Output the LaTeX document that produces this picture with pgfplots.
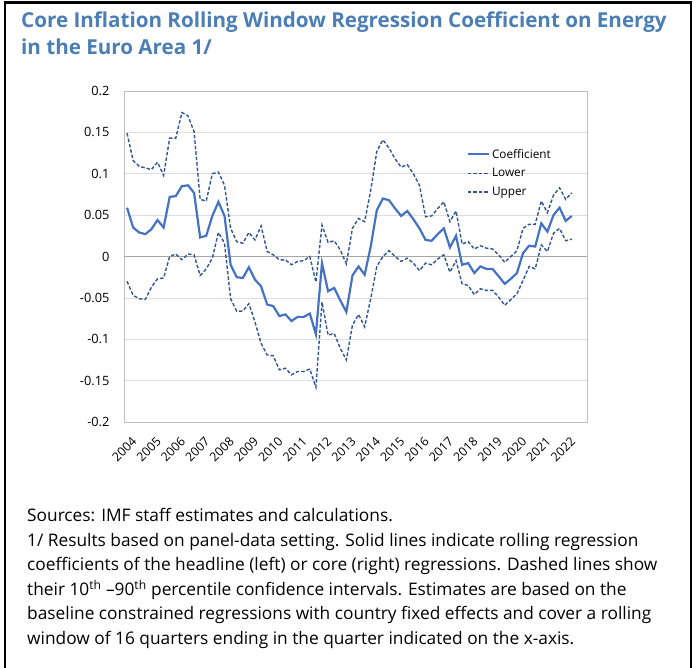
\documentclass[border=0pt]{standalone}
\usepackage{fontspec}
\setmainfont{Open Sans}
\usepackage{pgfplots}
\pgfplotsset{compat=1.18}
\usepackage{pgfplotstable}
\definecolor{titleblue}{RGB}{74,126,180}
\definecolor{coefblue}{RGB}{68,114,196}
\definecolor{dashblue}{RGB}{47,85,151}
\definecolor{gridgray}{RGB}{222,222,222}
\definecolor{boxgray}{RGB}{191,191,191}
\definecolor{zerogray}{RGB}{166,166,166}

\pgfplotstableread{
i coef lower upper
0 0.059 -0.030 0.149
1 0.035 -0.047 0.116
2 0.029 -0.051 0.109
3 0.027 -0.052 0.107
4 0.033 -0.037 0.105
5 0.044 -0.027 0.114
6 0.035 -0.026 0.098
7 0.072 0.000 0.143
8 0.073 0.003 0.143
9 0.085 -0.004 0.174
10 0.086 0.003 0.170
11 0.077 0.002 0.151
12 0.023 -0.023 0.069
13 0.025 -0.015 0.067
14 0.049 -0.002 0.100
15 0.066 0.029 0.102
16 0.049 0.016 0.086
17 -0.010 -0.051 0.034
18 -0.025 -0.066 0.018
19 -0.026 -0.066 0.016
20 -0.013 -0.057 0.029
21 -0.028 -0.079 0.020
22 -0.036 -0.105 0.037
23 -0.058 -0.119 0.006
24 -0.060 -0.120 0.002
25 -0.072 -0.137 -0.004
26 -0.070 -0.135 -0.004
27 -0.078 -0.143 -0.010
28 -0.073 -0.139 -0.006
29 -0.073 -0.139 -0.005
30 -0.069 -0.136 0.000
31 -0.094 -0.158 -0.031
32 -0.008 -0.055 0.038
33 -0.042 -0.095 0.017
34 -0.038 -0.093 0.019
35 -0.053 -0.111 0.008
36 -0.067 -0.125 -0.009
37 -0.023 -0.083 0.034
38 -0.012 -0.070 0.046
39 -0.022 -0.085 0.042
40 0.012 -0.051 0.080
41 0.056 -0.012 0.127
42 0.070 0.000 0.141
43 0.068 0.007 0.131
44 0.058 0.000 0.118
45 0.049 -0.006 0.108
46 0.055 -0.002 0.111
47 0.045 -0.008 0.100
48 0.034 -0.017 0.086
49 0.020 -0.008 0.048
50 0.019 -0.010 0.049
51 0.027 -0.003 0.058
52 0.034 0.002 0.066
53 0.011 -0.019 0.042
54 0.025 -0.005 0.055
55 -0.010 -0.033 0.015
56 -0.008 -0.035 0.018
57 -0.020 -0.046 0.009
58 -0.012 -0.039 0.013
59 -0.015 -0.041 0.010
60 -0.015 -0.041 0.009
61 -0.024 -0.049 0.002
62 -0.033 -0.059 -0.007
63 -0.027 -0.052 0.000
64 -0.020 -0.045 0.007
65 0.004 -0.029 0.034
66 0.013 -0.012 0.039
67 0.012 -0.015 0.039
68 0.040 0.014 0.067
69 0.030 0.006 0.053
70 0.050 0.028 0.074
71 0.059 0.034 0.083
72 0.043 0.019 0.069
73 0.049 0.021 0.077
}\datatable

\begin{document}
\begin{tikzpicture}
\useasboundingbox (0pt,0pt) rectangle (697pt,668pt);
\draw[line width=2.5pt] (5pt,0pt) -- (5pt,665.5pt) -- (691pt,665.5pt) -- (691pt,0pt);
\node[anchor=base west, inner sep=0, text=titleblue, font=\fontsize{20.6}{24}\selectfont\bfseries] at (21pt,640pt) {Core Inflation Rolling Window Regression Coefficient on Energy};
\node[anchor=base west, inner sep=0, text=titleblue, font=\fontsize{20.6}{24}\selectfont\bfseries] at (21pt,613pt) {in the Euro Area 1/};

\begin{axis}[
  at={(124pt,577pt)}, anchor=north west,
  scale only axis, width=463pt, height=331pt,
  xmin=-0.5, xmax=75.5, ymin=-0.2, ymax=0.2,
  axis line style={boxgray, line width=0.8pt},
  tick style={draw=none},
  ytick={-0.2,-0.15,-0.1,-0.05,0,0.05,0.1,0.15,0.2},
  yticklabels={-0.2,-0.15,-0.1,-0.05,0,0.05,0.1,0.15,0.2},
  ymajorgrids, major grid style={gridgray, line width=0.7pt},
  xtick={0,4,...,72},
  xticklabels={2004,2005,2006,2007,2008,2009,2010,2011,2012,2013,2014,2015,2016,2017,2018,2019,2020,2021,2022},
  xticklabel style={xshift=4pt, yshift=-14pt, rotate=45, anchor=north east, font=\fontsize{12.3}{14}\selectfont, inner sep=0pt},
  yticklabel style={font=\fontsize{12.8}{15}\selectfont, xshift=-11pt},
  legend style={at={(0.74,0.831)}, anchor=north west, draw=none, fill=none,
    font=\fontsize{11.8}{13}\selectfont, row sep=4.8pt, inner sep=0pt},
  legend cell align=left,
  legend image code/.code={\draw[#1] (0pt,0pt) -- (21pt,0pt);},
]
\addplot[zerogray, line width=0.9pt, forget plot] coordinates {(-0.5,0) (75.5,0)};
\addplot[coefblue, line width=2.2pt] table[x=i, y=coef] {\datatable};
\addlegendentry{Coefficient}
\addplot[dashblue, line width=1.4pt, dash pattern=on 3.5pt off 2pt] table[x=i, y=lower] {\datatable};
\addlegendentry{Lower}
\addplot[dashblue, line width=1.4pt, dash pattern=on 3.5pt off 2pt] table[x=i, y=upper] {\datatable};
\addlegendentry{Upper}
\end{axis}

\begin{scope}[every node/.style={anchor=base west, inner sep=0, font=\fontsize{17.3}{20}\selectfont}]
\node at (27pt,146pt) {Sources: IMF staff estimates and calculations.};
\node at (27pt,121pt) {1/ Results based on panel-data setting. Solid lines indicate rolling regression};
\node at (27pt,97pt) {coefficients of the headline (left) or core (right) regressions. Dashed lines show};
\node at (27pt,72pt) {their 10\textsuperscript{th} --90\textsuperscript{th} percentile confidence intervals. Estimates are based on the};
\node at (27pt,48pt) {baseline constrained regressions with country fixed effects and cover a rolling};
\node at (27pt,23pt) {window of 16 quarters ending in the quarter indicated on the x-axis.};
\end{scope}
\end{tikzpicture}
\end{document}
